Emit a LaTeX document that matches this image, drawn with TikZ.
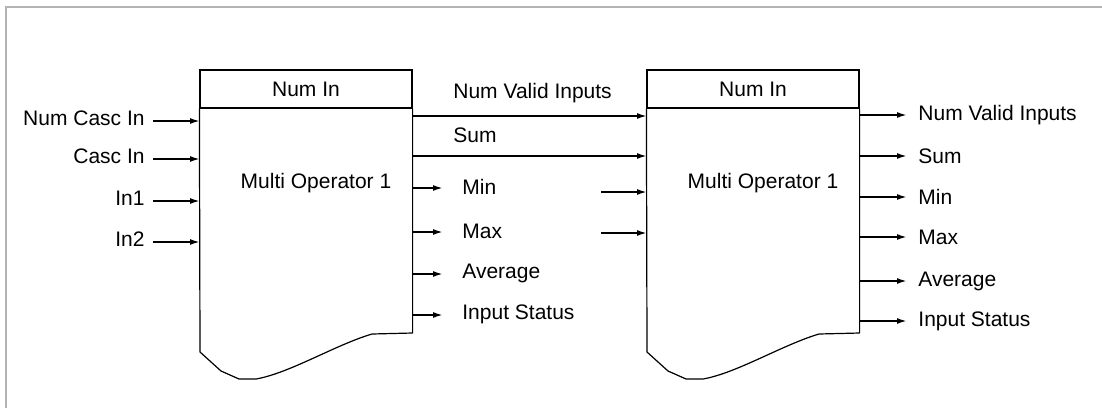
\documentclass[tikz,border=0pt]{standalone}
\usepackage{fontspec}
\setmainfont{Liberation Sans}
\usetikzlibrary{arrows.meta,calc,positioning}
\definecolor{frameline}{HTML}{B4B4B4}
\tikzset{
  sigtext/.style={font=\fontsize{10.5}{12}\selectfont, inner sep=2pt},
  headbox/.style={draw=black, line width=.6pt, minimum width=106pt,
    minimum height=19pt, inner sep=0pt, font=\fontsize{10.5}{12}\selectfont},
  blockline/.style={draw=black, line width=.6pt, line join=round},
  sigflow/.style={-{Latex[length=5pt,width=3pt]}, line width=.9pt}
}

\begin{document}
\begin{tikzpicture}[x=.5pt,y=-.5pt]
  \useasboundingbox (0,0) rectangle (1102,408);
  \draw[frameline, line width=1pt] (6,408) -- (6,7) -- (1102,7);

  % the two operator blocks
  \foreach \b/\ox in {A/0,B/447} {
    \begin{scope}[shift={(\ox,0)}]
      \node[headbox] (head\b) at (306,89) {Num In};
      \node[sigtext] (op\b) at (316,183) {Multi Operator 1};
      \draw[blockline] (head\b.south west) -- (200,352) -- (221,371) -- (239,379)
        -- (256,379) .. controls (290,373) and (335,345) .. (372,334)
        -- (head\b.east |- 0,333) -- (head\b.south east);
    \end{scope}
  }

  % inputs of block A
  \foreach \n/\lab/\y in {ncin/Num Casc In/121, cin/Casc In/159, ina/In1/201, inb/In2/242} {
    \coordinate (pA\n) at (200,\y);
    \node[sigtext, anchor=east] (\n) at (149,\y-3) {\lab};
    \draw[sigflow, shorten <=2pt] (\n.east |- pA\n) -- (pA\n);
  }

  % links from A to B
  \coordinate (oAnv) at (412,116);
  \coordinate (iBnv) at (647,116);
  \coordinate (oAsum) at (412,156);
  \coordinate (iBsum) at (647,156);
  \node[sigtext, anchor=west] (nvlab) at (449,93) {Num Valid Inputs};
  \node[sigtext, anchor=west] (sumlab) at (449,135) {Sum};
  \draw[sigflow] (oAnv) -- (iBnv);
  \draw[sigflow] (oAsum) -- (iBsum);

  % short outputs of block A
  \foreach \n/\lab/\y in {mnA/Min/188, mxA/Max/232, avA/Average/274, stA/Input Status/315} {
    \coordinate (o\n) at (412,\y);
    \node[sigtext, anchor=west] (\n) at (458,\y-1) {\lab};
    \draw[sigflow, shorten >=7.5pt] (o\n) -- (\n.west |- o\n);
  }

  % inputs of block B
  \foreach \n/\y in {mn/192, mx/233} {
    \coordinate (src\n) at (601,\y);
    \coordinate (iB\n) at (647,\y);
    \draw[sigflow] (src\n) -- (iB\n);
  }

  % outputs of block B
  \foreach \n/\lab/\y in {nvB/Num Valid Inputs/115, smB/Sum/156, mnB/Min/197, mxB/Max/237, avB/Average/281, stB/Input Status/321} {
    \coordinate (o\n) at (860,\y);
    \node[sigtext, anchor=west] (\n) at (914,\y) {\lab};
    \draw[sigflow, shorten >=3.5pt] (o\n) -- (\n.west |- o\n);
  }
\end{tikzpicture}
\end{document}
